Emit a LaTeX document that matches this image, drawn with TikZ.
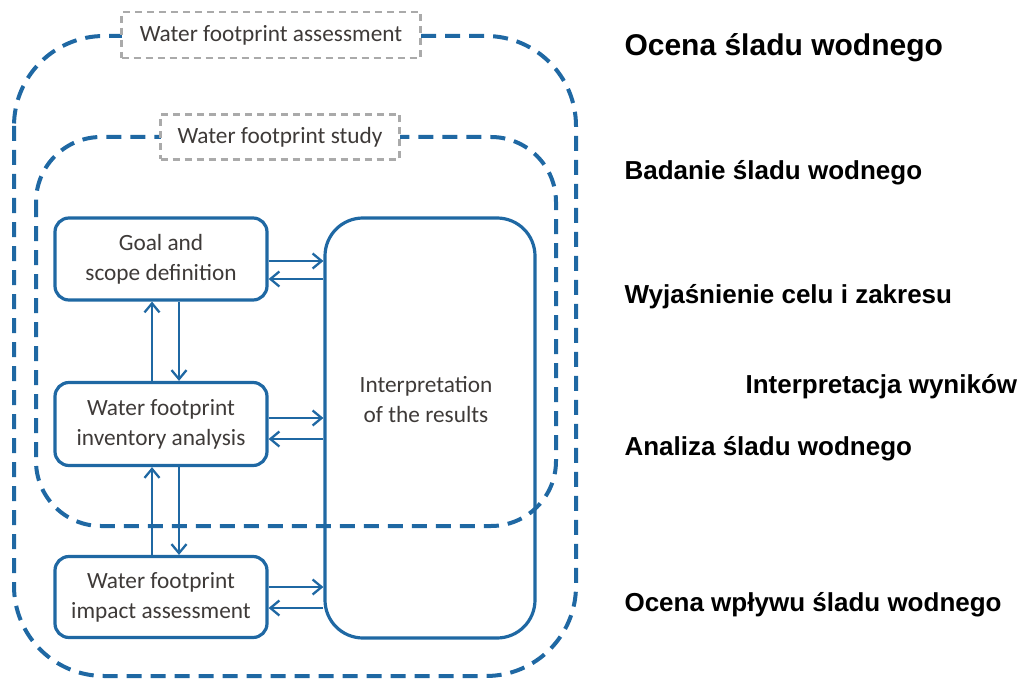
\documentclass[tikz,border=0pt]{standalone}
\usepackage{fontspec}
\setmainfont{Carlito}
\newfontfamily\labelfont{Liberation Sans}
\usepackage{xcolor}
\definecolor{flowblue}{RGB}{31,104,163}
\definecolor{framegray}{RGB}{170,170,170}
\definecolor{textgray}{RGB}{62,58,56}
\usetikzlibrary{arrows.meta, calc}

\begin{document}
\begin{tikzpicture}[x=1pt, y=-1pt,
    stage/.style={draw=flowblue, line width=3.2pt, rounded corners=14pt,
      minimum width=212pt, align=center, text=textgray, inner sep=0pt,
      font=\fontsize{23.3}{30}\selectfont},
    zone/.style={draw=flowblue, line width=4pt, dash pattern=on 15pt off 9pt},
    tag/.style={draw=framegray, line width=2.2pt, dash pattern=on 7pt off 5pt,
      fill=white, text=textgray, inner sep=0pt, font=\fontsize{23.3}{28}\selectfont},
    link/.style={draw=flowblue, line width=2.3pt, -{Straight Barb[length=9pt,width=15pt]}},
    polish/.style={anchor=base west, font=\labelfont\bfseries\fontsize{26}{30}\selectfont}]
  \useasboundingbox (0,0) rectangle (1022,679);

  % dashed scopes
  \draw[zone, rounded corners=90pt] (14,36) rectangle (576,676);
  \draw[zone, rounded corners=65pt] (36,137) rectangle (556,526);
  \node[tag, minimum width=299pt, minimum height=46pt] (assesstag) at (271,35) {Water footprint assessment};
  \node[tag, minimum width=239pt, minimum height=45pt] (studytag) at (280,137) {Water footprint study};

  % phases
  \node[stage, minimum height=82pt] (goal) at (161,259) {Goal and\\scope definition};
  \node[stage, minimum height=83pt] (inventory) at (161,424) {Water footprint\\inventory analysis};
  \node[stage, minimum height=81pt] (impact) at (161,597) {Water footprint\\impact assessment};
  \node[stage, minimum width=210pt, minimum height=420pt, rounded corners=38pt] (interp) at (430,428) {};
  \node[text=textgray, align=center, font=\fontsize{23.3}{30}\selectfont] (interptext) at (426,400) {Interpretation\\of the results};

  % links to interpretation
  \foreach \phase/\there/\back in {goal/2/20, inventory/-6/15, impact/-10/11} {
    \draw[link] ($(\phase.east)+(0,\there)$) -- ($(\phase.east -| interp.west)+(0,\there)$);
    \draw[link] ($(\phase.east -| interp.west)+(0,\back)$) -- ($(\phase.east)+(0,\back)$);
  }
  % links between phases
  \draw[link] ($(inventory.north)+(-9,0)$) -- ($(goal.south)+(-9,0)$);
  \draw[link] ($(goal.south)+(18,0)$) -- ($(inventory.north)+(18,0)$);
  \draw[link] ($(impact.north)+(-9,0)$) -- ($(inventory.south)+(-9,0)$);
  \draw[link] ($(inventory.south)+(18,0)$) -- ($(impact.north)+(18,0)$);

  % polish labels
  \node[polish, font=\labelfont\bfseries\fontsize{30}{33}\selectfont] (lblassess) at (621,56) {Ocena śladu wodnego};
  \node[polish] (lblstudy) at (621,179) {Badanie śladu wodnego};
  \node[polish] (lblgoal) at (621,303) {Wyjaśnienie celu i zakresu};
  \node[polish] (lblinterp) at (742,393) {Interpretacja wyników};
  \node[polish] (lblinventory) at (621,455) {Analiza śladu wodnego};
  \node[polish] (lblimpact) at (621,611) {Ocena wpływu śladu wodnego};
\end{tikzpicture}
\end{document}
